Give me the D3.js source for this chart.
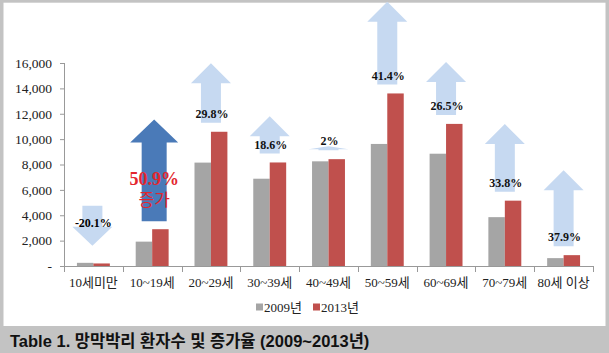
<!DOCTYPE html>
<html>
<head>
<meta charset="utf-8">
<script src="https://cdn.jsdelivr.net/npm/d3@7"></script>
<style>
  body { margin: 0; background: #c3c3c3; }
  svg { display: block; }
  .tick text { font-family: "Liberation Serif", "Noto Sans CJK KR", serif; fill: #222; }
</style>
</head>
<body>
<div id="wrapper"></div>
<script>
// data
const categories = ["10세미만", "10~19세", "20~29세", "30~39세", "40~49세", "50~59세", "60~69세", "70~79세", "80세 이상"]
const patients2009 = [250, 1920, 8150, 6880, 8250, 9620, 8850, 3850, 620]
const patients2013 = [200, 2900, 10580, 8160, 8420, 13600, 11200, 5150, 855]
const changeRates = [-20.1, 50.9, 29.8, 18.6, 2, 41.4, 26.5, 33.8, 37.9]
const changeLabels = ["-20.1%", "50.9%", "29.8%", "18.6%", "2%", "41.4%", "26.5%", "33.8%", "37.9%"]
const seriesNames = ["2009년", "2013년"]
const yTicks = [0, 2000, 4000, 6000, 8000, 10000, 12000, 14000, 16000]
const highlightCategory = "10~19세"
const captionText = "Table 1. 망막박리 환자수 및 증가율 (2009~2013년)"

function drawBarChart() {
  const dimensions = {
    width: 609,
    height: 353,
    panel: { left: 3.5, top: 2.7, right: 605.5, bottom: 326 },
    margin: { top: 63, right: 16, bottom: 87, left: 64 },
  }
  dimensions.boundedWidth = dimensions.width - dimensions.margin.left - dimensions.margin.right
  dimensions.boundedHeight = dimensions.height - dimensions.margin.top - dimensions.margin.bottom

  const serif = "'Liberation Serif', 'Noto Sans CJK KR', serif"
  const colors = ["#a5a5a5", "#c0504d"]

  const wrapper = d3.select("#wrapper")
    .append("svg")
      .attr("width", dimensions.width)
      .attr("height", dimensions.height)

  // frame and caption band
  wrapper.append("rect")
      .attr("width", dimensions.width)
      .attr("height", dimensions.height)
      .attr("fill", "#c3c3c3")

  wrapper.append("rect")
      .attr("x", dimensions.panel.left)
      .attr("y", dimensions.panel.top)
      .attr("width", dimensions.panel.right - dimensions.panel.left)
      .attr("height", dimensions.panel.bottom - dimensions.panel.top)
      .attr("fill", "#fff")

  wrapper.append("text")
      .attr("x", 10)
      .attr("y", 347)
      .attr("font-family", "'Liberation Sans', Arial, 'Noto Sans CJK KR', sans-serif")
      .attr("font-weight", "bold")
      .attr("font-size", 16.5)
      .attr("fill", "#111")
      .text(captionText)

  const bounds = wrapper.append("g")
      .attr("transform", `translate(${dimensions.margin.left}, ${dimensions.margin.top})`)

  // scales
  const yScale = d3.scaleLinear()
    .domain([0, 16000])
    .range([dimensions.boundedHeight, 0])

  const xScale = d3.scaleBand()
    .domain(categories)
    .range([0, dimensions.boundedWidth])
    .paddingInner(0.44)
    .paddingOuter(0.22)

  const seriesScale = d3.scaleBand()
    .domain(seriesNames)
    .range([0, xScale.bandwidth()])

  // arrow length: 2px per percent point
  const rateScale = d3.scaleLinear()
    .domain([0, 100])
    .range([0, 200])

  const centerX = c => xScale(c) + xScale.bandwidth() / 2

  // axes
  const yAxisGenerator = d3.axisLeft(yScale)
    .tickValues(yTicks)
    .tickSize(4)
    .tickPadding(8)
    .tickFormat(d => d === 0 ? "-" : d3.format(",")(d))

  const yAxis = bounds.append("g")
    .call(yAxisGenerator)
  yAxis.selectAll("text").attr("font-size", 13.5)
  yAxis.selectAll("line, path").attr("stroke", "#999")
  yAxis.select(".domain").attr("d", `M0.5,${dimensions.boundedHeight}V0`)

  const step = xScale.step()
  const xAxisGenerator = d3.axisBottom(xScale)
    .tickSize(0)
    .tickPadding(12)

  const xAxis = bounds.append("g")
      .attr("transform", `translate(0, ${dimensions.boundedHeight})`)
    .call(xAxisGenerator)
  xAxis.selectAll("text").attr("font-size", 13)
  xAxis.select(".domain").attr("stroke", "#999")
    .attr("d", `M0,0.5H${dimensions.boundedWidth}`)
  xAxis.selectAll(".sep")
    .data(d3.range(categories.length + 1))
    .join("line")
      .attr("class", "sep")
      .attr("x1", i => Math.round(xScale(categories[0]) - xScale.paddingOuter() * step + i * step) + 0.5)
      .attr("x2", i => Math.round(xScale(categories[0]) - xScale.paddingOuter() * step + i * step) + 0.5)
      .attr("y1", 0)
      .attr("y2", 6)
      .attr("stroke", "#999")

  // bars
  const rows = categories.map((c, i) => ({
    category: c,
    values: [patients2009[i], patients2013[i]],
    rate: changeRates[i],
    label: changeLabels[i],
  }))

  const groups = bounds.selectAll(".group")
    .data(rows)
    .join("g")
      .attr("class", "group")
      .attr("transform", d => `translate(${xScale(d.category)}, 0)`)

  groups.selectAll("rect")
    .data(d => d.values.map((v, j) => ({ series: seriesNames[j], value: v, j })))
    .join("rect")
      .attr("x", d => seriesScale(d.series))
      .attr("y", d => yScale(d.value))
      .attr("width", seriesScale.bandwidth())
      .attr("height", d => dimensions.boundedHeight - yScale(d.value))
      .attr("fill", d => colors[d.j])

  // arrows
  const arrowPath = (cx, baseY, length, shaftW, headW, headH) => {
    const dir = length >= 0 ? -1 : 1
    const len = Math.abs(length)
    const hh = Math.min(headH, len * 0.75)
    const tipY = baseY + dir * len
    const neckY = tipY - dir * hh
    return `M${cx - shaftW / 2},${baseY}` +
      `L${cx - shaftW / 2},${neckY}L${cx - headW / 2},${neckY}` +
      `L${cx},${tipY}L${cx + headW / 2},${neckY}` +
      `L${cx + shaftW / 2},${neckY}L${cx + shaftW / 2},${baseY}Z`
  }

  const arrows = bounds.append("g")
  rows.forEach(d => {
    const cx = centerX(d.category)
    const topY = yScale(d3.max(d.values))
    const len = rateScale(d.rate)
    const isHighlight = d.category === highlightCategory

    if (d.rate < 0) {
      const tipY = topY - 17
      const baseY = tipY + len
      arrows.append("path")
          .attr("d", arrowPath(cx - 1, baseY, len, 20, 40, 19))
          .attr("fill", "#c6d9f1")
      arrows.append("text")
          .attr("x", cx)
          .attr("y", baseY + 17)
          .attr("dy", "0.35em")
          .attr("text-anchor", "middle")
          .attr("font-family", serif)
          .attr("font-weight", "bold")
          .attr("font-size", 12)
          .text(d.label)
    } else if (isHighlight) {
      const baseY = topY - 8
      arrows.append("path")
          .attr("d", arrowPath(cx + 2, baseY, len, 25, 48, 23))
          .attr("fill", "#4a7ab8")
      arrows.append("text")
          .attr("x", cx + 2)
          .attr("y", baseY - 43)
          .attr("dy", "0.35em")
          .attr("text-anchor", "middle")
          .attr("font-family", serif)
          .attr("font-weight", "bold")
          .attr("font-size", 18)
          .attr("fill", "#e3262e")
          .text(d.label)
      arrows.append("text")
          .attr("x", cx + 2)
          .attr("y", baseY - 21)
          .attr("dy", "0.35em")
          .attr("text-anchor", "middle")
          .attr("font-family", serif)
          .attr("font-size", 17)
          .attr("fill", "#e3262e")
          .text("증가")
    } else {
      const baseY = topY - 9
      arrows.append("path")
          .attr("d", arrowPath(cx, baseY, len, 20, 40, 20))
          .attr("fill", "#c6d9f1")
      arrows.append("text")
          .attr("x", cx + 1)
          .attr("y", topY - 18)
          .attr("dy", "0.35em")
          .attr("text-anchor", "middle")
          .attr("font-family", serif)
          .attr("font-weight", "bold")
          .attr("font-size", 12)
          .attr("fill", "#111")
          .text(d.label)
    }
  })

  // legend
  const legend = wrapper.append("g")
      .attr("transform", "translate(256, 307)")
  const legendItems = legend.selectAll("g")
    .data(seriesNames)
    .join("g")
      .attr("transform", (d, i) => `translate(${i * 57}, 0)`)
  legendItems.append("rect")
      .attr("x", 0)
      .attr("y", -3.5)
      .attr("width", 7)
      .attr("height", 7)
      .attr("fill", (d, i) => colors[i])
  legendItems.append("text")
      .attr("x", 8)
      .attr("dy", "0.35em")
      .attr("font-family", serif)
      .attr("font-size", 13)
      .attr("fill", "#222")
      .text(d => d)
}
drawBarChart()
</script>
</body>
</html>
